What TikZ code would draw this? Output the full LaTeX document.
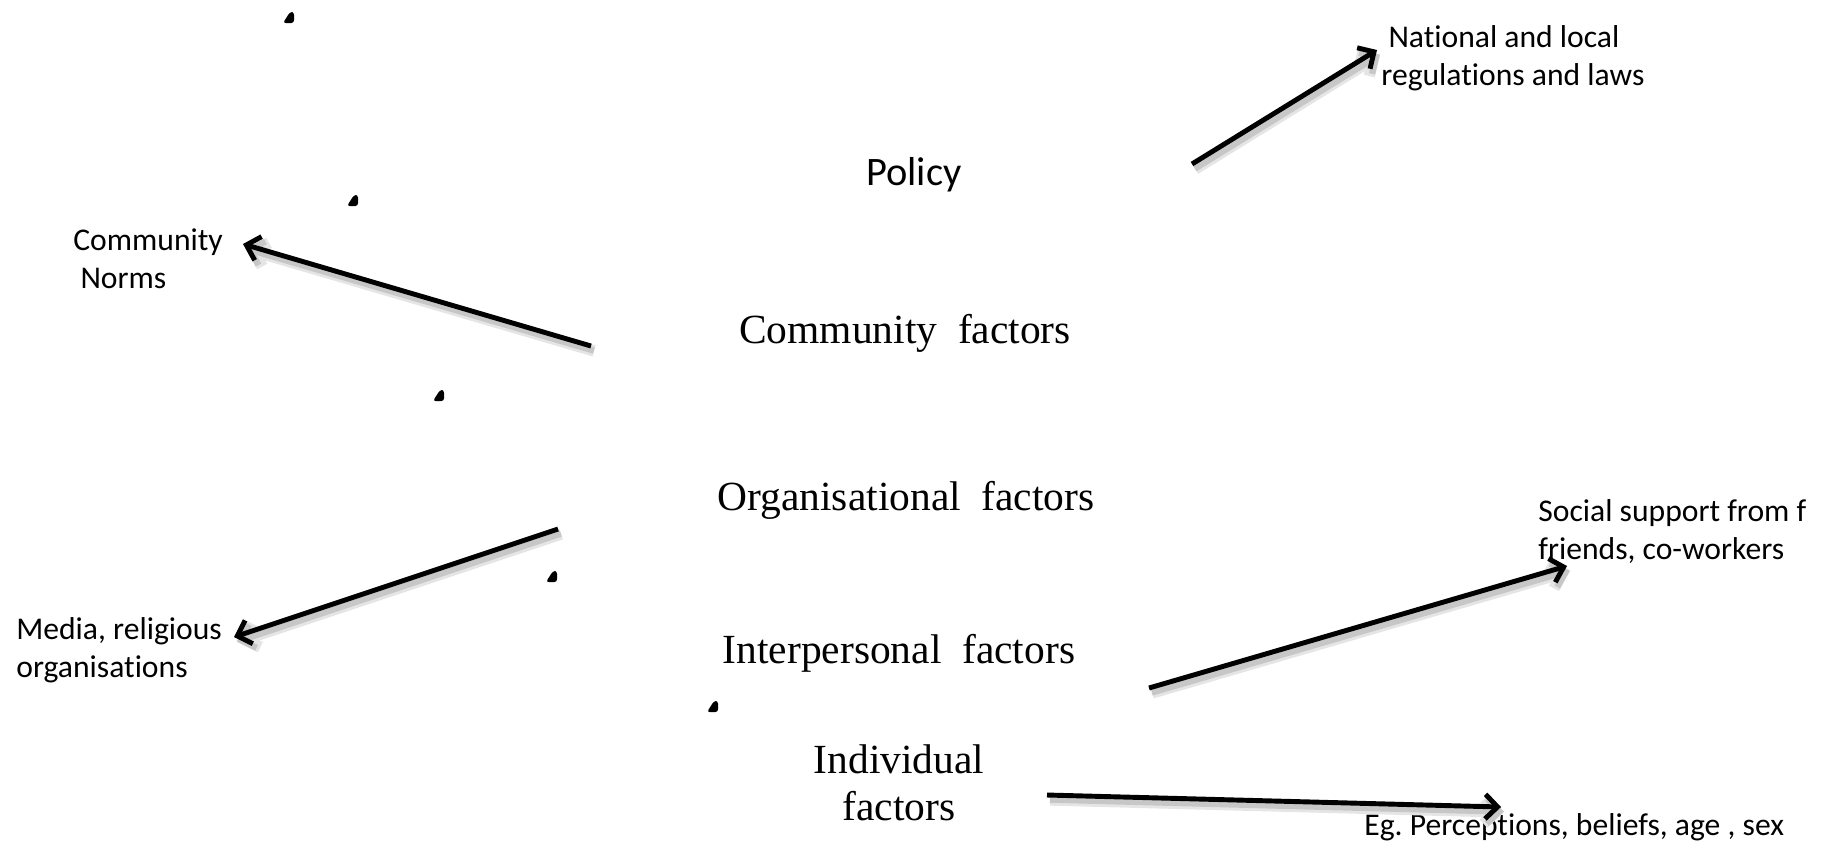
\documentclass[tikz,border=0pt]{standalone}
\usepackage{fontspec}
\setmainfont{Liberation Serif}
\newfontfamily\calibri[Ligatures=NoCommon]{Carlito}
\usepackage{tikz}
\usetikzlibrary{arrows.meta, positioning}

\tikzset{
  level/.style={font=\fontsize{23.6}{26.6}\selectfont, inner sep=0pt, anchor=base, align=center},
  note/.style={font=\calibri\fontsize{18}{21.6}\selectfont\frenchspacing, inner sep=0pt, anchor=base west, align=left},
  shadowed/.style={
    preaction={draw=black!10, line width=6.5pt, transform canvas={shift={(1.8pt,-2.8pt)}}},
    preaction={draw=black!22, line width=3.6pt, transform canvas={shift={(1.6pt,-2.6pt)}}}},
  arr/.style={line width=2.8pt, -{Straight Barb[length=7pt,width=14pt]}, shadowed}
}

\begin{document}
\begin{tikzpicture}[x=0.02cm, y=-0.02cm]
\useasboundingbox (0,0) rectangle (1834,843);
% Levels of the model
\node[level, font=\calibri\fontsize{23}{26.6}\selectfont] (policy) at (914,185) {Policy};
\node[level] (community) at (905,343) {Community\enspace factors};
\node[level] (organisational) at (906,510) {Organisational\enspace factors};
\node[level] (interpersonal) at (899,663) {Interpersonal\enspace factors};
\node[level] (individual) at (899,820) {Individual\\factors};
% Examples (base = last line)
\node[note] (laws) at (1381,85) {\ National and local\\regulations and laws};
\node[note] (norms) at (73,288) {Community\\\ Norms};
\node[note] (media) at (16,677) {Media, religious\\organisations};
\node[note] (support) at (1538,559) {Social support from f\\friends, co-workers};
\node[note] (beliefs) at (1364,835) {Eg. Perceptions, beliefs, age , sex};
% Arrow ends
\coordinate (policy-from) at (1192,164);   \coordinate (policy-to) at (1377,50);
\coordinate (community-from) at (591,346); \coordinate (community-to) at (243,244);
\coordinate (organisational-from) at (558,529); \coordinate (organisational-to) at (234,637);
\coordinate (interpersonal-from) at (1149,688); \coordinate (interpersonal-to) at (1567,566);
\coordinate (individual-from) at (1047,795); \coordinate (individual-to) at (1501,807);
\foreach \lev in {policy, community, organisational, interpersonal, individual} {
  \draw[arr] (\lev-from) -- (\lev-to);
}
% Small marks along the left edge
\foreach \x/\y in {289/18, 353/201, 439/396, 552/577, 713/707} {
  \fill[rounded corners=1.5] (\x-6,\y+5) -- (\x+1,\y-6) -- (\x+5,\y-6) -- (\x+5,\y+5) -- cycle;
}
\end{tikzpicture}
\end{document}
